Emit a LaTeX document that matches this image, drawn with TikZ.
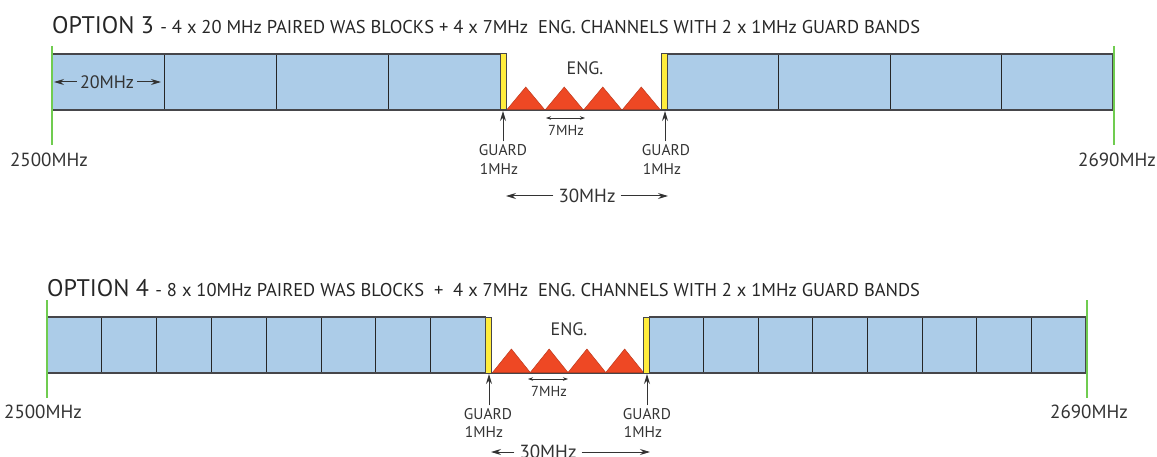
\documentclass[tikz,border=0pt]{standalone}
\usepackage{fontspec}
\setmainfont{PT Sans}
\usepackage{tikz}
\usetikzlibrary{arrows.meta}
\definecolor{wasblue}{RGB}{172,204,232}
\definecolor{bandgray}{RGB}{70,70,74}
\definecolor{guardyel}{RGB}{255,236,60}
\definecolor{engred}{RGB}{238,72,36}
\definecolor{edgegreen}{RGB}{112,204,80}
\tikzset{
  blk/.style={fill=wasblue},
  bandline/.style={draw=bandgray,line width=1.6},
  divline/.style={draw=black!85,line width=1.1},
  grd/.style={draw=bandgray,line width=1,fill=guardyel},
  engtri/.style={draw=engred!80!black,line width=0.5,fill=engred},
  edgeline/.style={draw=edgegreen,line width=2.8},
  txt/.style={inner sep=0.75pt,text=black!80,font=\fontsize{19}{21}\selectfont},
  midtxt/.style={inner sep=0.75pt,text=black!80,font=\fontsize{18}{20}\selectfont},
  smalltxt/.style={inner sep=0.75pt,text=black!80,font=\fontsize{15.5}{17}\selectfont},
  tinytxt/.style={inner sep=0.75pt,text=black!80,font=\fontsize{14.5}{16}\selectfont},
  ptr/.style={-{Stealth[length=10,width=6]},line width=1,draw=black!80},
  tinyptr/.style={{Stealth[length=5,width=3.5]}-{Stealth[length=5,width=3.5]},line width=0.6,draw=black!80},
}
\begin{document}
\begin{tikzpicture}[x=1pt,y=1pt,yscale=-1,xscale=1]
\useasboundingbox (0,0) rectangle (1157,457);

%%%%%%%%%%%%%%%% OPTION 3
% Title
\draw (52,25) node [anchor=west,inner sep=0pt,text=black!85] (t3) {\fontsize{24}{26}\selectfont OPTION 3 \fontsize{18.5}{20}\selectfont - 4 x 20 MHz PAIRED WAS BLOCKS + 4 x 7MHz \ ENG. CHANNELS WITH 2 x 1MHz GUARD BANDS};

%Blocks
\fill [blk] (52,54) rectangle (500,110);
\fill [blk] (667,54) rectangle (1113,110);
\foreach \i in {1,...,3}
  \draw [divline] ({int(52+112*\i)+0.5},54) -- ({int(52+112*\i)+0.5},110);
\foreach \i in {1,...,3}
  \draw [divline] ({int(667+111.5*\i)+0.5},54) -- ({int(667+111.5*\i)+0.5},110);
\draw [bandline] (52,54) -- (500,54);
\draw [bandline] (667,54) -- (1113,54) -- (1113,110) -- (52,110);
%Triangles
\foreach \i in {0,...,3}
  \draw [engtri] (507+38.5*\i,109.5) -- (525.75+38.5*\i,87) -- (544.5+38.5*\i,109.5) -- cycle;
%Guard bands
\draw [grd] (500,54) rectangle (506,110);
\draw [grd] (661,54) rectangle (667,110);
%Band edges
\draw [edgeline] (52,46) -- (52,145);
\draw [edgeline] (1114,46) -- (1114,145);

% Text Node
\draw (49,160) node [txt] (lo3) {2500MHz};
% Text Node
\draw (1117,160) node [txt] (hi3) {2690MHz};
% Text Node
\draw (585,68) node [midtxt] (eng3) {ENG.};
% Text Node
\draw (107,82) node [midtxt,inner xsep=3pt] (w3) {20MHz};
\draw [ptr] (w3.west) -- (54,82);
\draw [ptr] (w3.east) -- (161,82);
% Text Node
\draw (566,130) node [tinytxt] (ch3) {7MHz};
\draw [tinyptr] (546,118) -- (585,118);
% Text Node
\draw (503,150) node [smalltxt] (ga3) {GUARD};
\draw (499,169) node [smalltxt] (gb3) {1MHz};
\draw [ptr] (ga3.north -| 503,0) ++(0,-2) coordinate (pa3) (pa3) -- (503,111);
% Text Node
\draw (666,150) node [smalltxt] (gc3) {GUARD};
\draw (662,169) node [smalltxt] (gd3) {1MHz};
\draw [ptr] (gc3.north -| 665,0) ++(0,-2) coordinate (pc3) (pc3) -- (665,111);
% Text Node
\draw (587,196) node [txt,inner xsep=5pt] (tot3) {30MHz};
\draw [ptr] (tot3.west) -- (506,196);
\draw [ptr] (tot3.east) -- (668,196);

%%%%%%%%%%%%%%%% OPTION 4
% Title
\draw (47,288) node [anchor=west,inner sep=0pt,text=black!85] (t4) {\fontsize{24}{26}\selectfont OPTION 4 \fontsize{18.5}{20}\selectfont - 8 x 10MHz PAIRED WAS BLOCKS \ + \ 4 x 7MHz \ ENG. CHANNELS WITH 2 x 1MHz GUARD BANDS};

%Blocks
\fill [blk] (47,317) rectangle (485.6,373);
\fill [blk] (649,317) rectangle (1086,373);
\foreach \i in {1,...,7}
  \draw [divline] ({int(47+54.8*\i)+0.5},317) -- ({int(47+54.8*\i)+0.5},373);
\foreach \i in {1,...,7}
  \draw [divline] ({int(649+54.6*\i)+0.5},317) -- ({int(649+54.6*\i)+0.5},373);
\draw [bandline] (47,317) -- (485.6,317);
\draw [bandline] (649,317) -- (1086,317) -- (1086,373) -- (47,373);
%Triangles
\foreach \i in {0,...,3}
  \draw [engtri] (492.5+37.75*\i,372.5) -- (511.4+37.75*\i,349) -- (530.25+37.75*\i,372.5) -- cycle;
%Guard bands
\draw [grd] (485.6,317) rectangle (491.5,373);
\draw [grd] (643.5,317) rectangle (649,373);
%Band edges
\draw [edgeline] (47,300) -- (47,398);
\draw [edgeline] (1087,300) -- (1087,398);

% Text Node
\draw (43,412) node [txt] (lo4) {2500MHz};
% Text Node
\draw (1089,412) node [txt] (hi4) {2690MHz};
% Text Node
\draw (569,329) node [midtxt] (eng4) {ENG.};
% Text Node
\draw (549,391) node [tinytxt] (ch4) {7MHz};
\draw [tinyptr] (528,379) -- (568,379);
% Text Node
\draw (488,414) node [smalltxt] (ga4) {GUARD};
\draw (484,432) node [smalltxt] (gb4) {1MHz};
\draw [ptr] (ga4.north -| 489,0) ++(0,-2) coordinate (pa4) (pa4) -- (489,374);
% Text Node
\draw (647,414) node [smalltxt] (gc4) {GUARD};
\draw (643,432) node [smalltxt] (gd4) {1MHz};
\draw [ptr] (gc4.north -| 647,0) ++(0,-2) coordinate (pc4) (pc4) -- (647,374);
% Text Node
\draw (548,452) node [txt,inner xsep=5pt] (tot4) {30MHz};
\draw [ptr] (tot4.west) -- (491,452);
\draw [ptr] (tot4.east) -- (650,452);
\end{tikzpicture}
\end{document}
